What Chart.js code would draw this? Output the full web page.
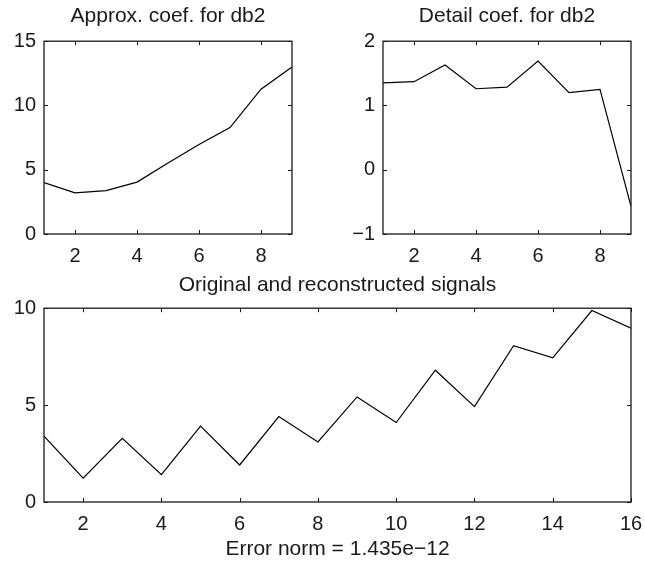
<!DOCTYPE html>
<html><head><meta charset="utf-8">
<script src="https://cdn.jsdelivr.net/npm/chart.js@4.4.0/dist/chart.umd.min.js"></script>
<style>
html,body{margin:0;padding:0;background:#fff;width:645px;height:562px;overflow:hidden;}
canvas{position:absolute;}
</style></head><body>
<canvas id="c1" width="310" height="265" style="left:0;top:0"></canvas>
<canvas id="c2" width="306" height="265" style="left:339px;top:0"></canvas>
<canvas id="c3" width="645" height="297" style="left:0;top:265px"></canvas>
<script>
// ---- data ----
const coefIndex = [1, 2, 3, 4, 5, 6, 7, 8, 9];
const approxCoef = [4.0, 3.2, 3.37, 4.04, 5.53, 6.97, 8.28, 11.27, 13.0];
const detailCoef = [1.35, 1.37, 1.63, 1.26, 1.285, 1.69, 1.2, 1.25, -0.57];
const signalIndex = [1, 2, 3, 4, 5, 6, 7, 8, 9, 10, 11, 12, 13, 14, 15, 16];
const signalValues = [3.4, 1.23, 3.29, 1.41, 3.92, 1.91, 4.41, 3.1, 5.42, 4.1, 6.8, 4.92, 8.07, 7.44, 9.88, 8.97];
// ---- tick labels ----
const coefXTicks = [2, 4, 6, 8];
const approxYTicks = [0, 5, 10, 15];
const detailYTicks = [-1, 0, 1, 2];
const signalXTicks = [2, 4, 6, 8, 10, 12, 14, 16];
const signalYTicks = [0, 5, 10];
// ---- titles ----
const approxTitle = 'Approx. coef. for db2';
const detailTitle = 'Detail coef. for db2';
const signalTitle = 'Original and reconstructed signals';
const signalXLabel = 'Error norm = 1.435e\u221212';

const TXT = '#1a1a1a';
const FAM = "'Liberation Sans', Arial, Helvetica, sans-serif";
const FONT = {family: FAM, size: 20, weight: 'normal'};
const TFONT = {family: FAM, size: 21, weight: 'normal'};

const boxPlugin = {
  id: 'box',
  afterDatasetsDraw(chart) {
    const {ctx, chartArea: a, scales: {x, y}} = chart;
    ctx.save();
    ctx.strokeStyle = TXT;
    ctx.lineWidth = 1.3;
    ctx.strokeRect(a.left, a.top, a.right - a.left, a.bottom - a.top);
    ctx.lineWidth = 1;
    const L = 4;
    const seg = (x1, y1, x2, y2) => { ctx.beginPath(); ctx.moveTo(x1, y1); ctx.lineTo(x2, y2); ctx.stroke(); };
    x.ticks.forEach(t => {
      const px = Math.round(x.getPixelForValue(t.value)) + 0.5;
      seg(px, a.bottom, px, a.bottom - L);
      seg(px, a.top, px, a.top + L);
    });
    y.ticks.forEach(t => {
      const py = Math.round(y.getPixelForValue(t.value)) + 0.5;
      seg(a.left, py, a.left + L, py);
      seg(a.right, py, a.right - L, py);
    });
    ctx.restore();
  }
};

function fmt(v) { return String(v).replace('-', '\u2212'); }

function makeChart(id, xs, ys, xmin, xmax, ymin, ymax, xTicks, yTicks, title, xLabel, padRight, xAxisH, titlePad) {
  const cfg = {
    type: 'line',
    data: {
      labels: xs,
      datasets: [{
        data: xs.map((v, i) => ({x: v, y: ys[i]})),
        borderColor: '#000',
        borderWidth: 1.2,
        pointRadius: 0,
        tension: 0,
        fill: false
      }]
    },
    options: {
      responsive: false,
      animation: false,
      devicePixelRatio: 1,
      layout: {padding: {left: 0, right: padRight, top: 0, bottom: 0}},
      plugins: {
        legend: {display: false},
        tooltip: {enabled: false},
        title: {
          display: true,
          text: title,
          color: TXT,
          font: TFONT,
          fullSize: false,
          padding: titlePad
        }
      },
      scales: {
        x: {
          type: 'linear',
          min: xmin, max: xmax,
          grid: {display: false, drawTicks: false},
          border: {display: false},
          afterBuildTicks: s => { s.ticks = xTicks.map(v => ({value: v})); },
          afterFit: s => { s.height = xAxisH; s.paddingLeft = 0; s.paddingRight = 0; },
          ticks: {color: TXT, font: FONT, padding: 10, maxRotation: 0, autoSkip: false, callback: v => fmt(v)},
          title: xLabel ? {display: true, text: xLabel, color: TXT, font: TFONT, padding: {top: 0, bottom: 0}} : {display: false}
        },
        y: {
          type: 'linear',
          min: ymin, max: ymax,
          grid: {display: false, drawTicks: false},
          border: {display: false},
          afterBuildTicks: s => { s.ticks = yTicks.map(v => ({value: v})); },
          afterFit: s => { s.width = 44; s.paddingTop = 0; s.paddingBottom = 0; },
          ticks: {color: TXT, font: FONT, padding: 8, autoSkip: false, callback: v => fmt(v)}
        }
      }
    },
    plugins: [boxPlugin]
  };
  return new Chart(document.getElementById(id), cfg);
}

makeChart('c1', coefIndex, approxCoef, 1, 9, 0, 15, coefXTicks, approxYTicks, approxTitle, null, 18, 31, {top: 4, bottom: 12});
makeChart('c2', coefIndex, detailCoef, 1, 9, -1, 2, coefXTicks, detailYTicks, detailTitle, null, 14, 31, {top: 4, bottom: 12});
makeChart('c3', signalIndex, signalValues, 1, 16, 0, 10, signalXTicks, signalYTicks, signalTitle, signalXLabel, 14, 60, {top: 8, bottom: 10});
</script>
</body></html>
